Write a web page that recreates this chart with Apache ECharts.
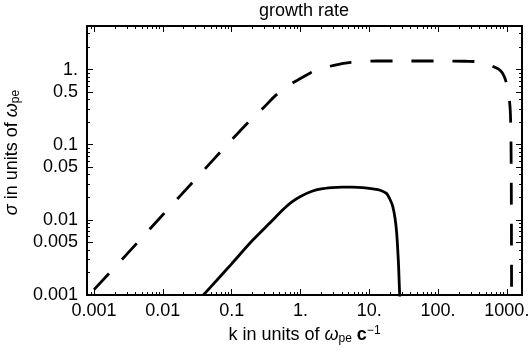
<!DOCTYPE html>
<html>
<head>
<meta charset="utf-8">
<title>growth rate</title>
<script src="https://cdn.jsdelivr.net/npm/echarts@6/dist/echarts.min.js"></script>
<style>
  html, body { margin: 0; padding: 0; background: #fff; }
  #chart { width: 531px; height: 351px; }
</style>
</head>
<body>
<div id="chart"></div>
<script>
// 数据: 点 (k in units of ω_pe c^-1, σ in units of ω_pe)
// 虚线
const kDashed = [0.001, 0.003, 0.01, 0.03, 0.1, 0.2, 0.3, 0.41, 0.55, 0.76, 1.0, 1.39, 2.0, 3.07, 4.2, 5.4, 8.0, 13,
  30, 100, 250, 451, 618, 750, 862, 950, 1000, 1055, 1100, 1128, 1145, 1155, 1162, 1167, 1172];
const sigmaDashed = [0.00118, 0.0035, 0.0117, 0.035, 0.116, 0.226, 0.32, 0.43, 0.54, 0.66, 0.76, 0.90, 1.03, 1.14, 1.21, 1.25, 1.28, 1.30,
  1.30, 1.30, 1.29, 1.25, 1.11, 1.02, 0.90, 0.74, 0.63, 0.51, 0.36, 0.25, 0.135, 0.06, 0.02, 0.005, 0.0008];
// 实线
const kSolid = [0.0388, 0.06, 0.1, 0.2, 0.377, 0.55, 0.743, 1.0, 1.47, 2.0, 2.9, 4.0, 5.7, 8.0, 11.3, 14.4,
  17.8, 20, 22, 23.7, 25, 26.5, 27.3, 27.8];
const sigmaSolid = [0.001, 0.00155, 0.0026, 0.0053, 0.0095, 0.0135, 0.0172, 0.0205, 0.0240, 0.0258, 0.0268, 0.0272, 0.0272, 0.0268, 0.0258, 0.0248,
  0.0225, 0.0188, 0.0150, 0.0105, 0.0068, 0.0028, 0.0014, 0.0009];

// 刻度
const xMajorTicks = [0.001, 0.01, 0.1, 1, 10, 100, 1000];
const xMajorLabels = ['0.001', '0.01', '0.1', '1.', '10.', '100.', '1000.'];
const yMajorTicks = [0.001, 0.005, 0.01, 0.05, 0.1, 0.5, 1];
const yMajorLabels = ['0.001', '0.005', '0.01', '0.05', '0.1', '0.5', '1.'];
const decades = [0.0001, 0.001, 0.01, 0.1, 1, 10, 100, 1000];
const xMinorSteps = [2, 3, 4, 5, 6, 7, 8, 9];
const yMinorSteps = [2, 3, 4, 6, 7, 8, 9];

// 坐标范围
const X_MIN = 0.00079, X_MAX = 1660;
const Y_MIN = 0.001, Y_MAX = 3.8;

const FONT = '"Liberation Sans", Arial, sans-serif';

// 小刻度位置 (每个十进位里的 2..9)
function minorTicks(steps, min, max) {
  const ret = [];
  for (const d of decades) {
    for (const s of steps) {
      const v = d * s;
      if (v > min && v < max) ret.push(v);
    }
  }
  return ret;
}

// 刻度值 -> 标签文字
function labelFor(values, labels) {
  return function (v) {
    for (let i = 0; i < values.length; i++) {
      if (Math.abs(Math.log10(values[i]) - Math.log10(v)) < 1e-6) return labels[i];
    }
    return '';
  };
}

// 一根对数轴 (只画线和刻度)
function makeAxis(min, max, position, tickValues, tickLen, showLine) {
  return {
    type: 'log',
    logBase: 10,
    position: position,
    min: min,
    max: max,
    silent: true,
    axisLine: { show: showLine, lineStyle: { color: '#000', width: 2 } },
    axisTick: {
      show: true, inside: true, length: tickLen, customValues: tickValues,
      lineStyle: { color: '#000', width: 1 }
    },
    axisLabel: { show: false },
    splitLine: { show: false },
    minorTick: { show: false },
    minorSplitLine: { show: false }
  };
}

const xMinor = minorTicks(xMinorSteps, X_MIN, X_MAX);
const yMinor = minorTicks(yMinorSteps, Y_MIN, Y_MAX);

// 主 x 轴 (下方, 带标签)
const xMain = makeAxis(X_MIN, X_MAX, 'bottom', xMajorTicks, 6, true);
xMain.axisLabel = {
  show: true, customValues: xMajorTicks, formatter: labelFor(xMajorTicks, xMajorLabels),
  margin: 7, color: '#000', fontFamily: FONT, fontSize: 18
};
xMain.name = '{t|k in units of }{w|ω}{sub|pe}{t| }{b|c}{sup|−1}';
xMain.nameLocation = 'middle';
xMain.nameGap = 25;
xMain.nameTextStyle = {
  color: '#000', fontFamily: FONT, fontSize: 18,
  rich: {
    t: { fontFamily: FONT, fontSize: 18, lineHeight: 20, color: '#000' },
    w: { fontFamily: FONT, fontSize: 18, lineHeight: 20, fontStyle: 'italic', color: '#000' },
    b: { fontFamily: FONT, fontSize: 18, lineHeight: 20, fontWeight: 'bold', color: '#000' },
    sub: { fontFamily: FONT, fontSize: 12, lineHeight: 10, verticalAlign: 'bottom', color: '#000' },
    sup: { fontFamily: FONT, fontSize: 12, lineHeight: 10, verticalAlign: 'top', color: '#000' }
  }
};

// 主 y 轴 (左边, 带标签)
const yMain = makeAxis(Y_MIN, Y_MAX, 'left', yMajorTicks, 6, true);
yMain.axisLabel = {
  show: true, customValues: yMajorTicks, formatter: labelFor(yMajorTicks, yMajorLabels),
  margin: 9, color: '#000', fontFamily: FONT, fontSize: 18
};
yMain.name = '{s|σ}{t| in units of }{w|ω}{sub|pe}';
yMain.nameLocation = 'middle';
yMain.nameGap = 62;
yMain.nameTextStyle = {
  color: '#000', fontFamily: FONT, fontSize: 18,
  padding: [0, 0, 0, 16],   // 名字整体往上挪一点
  rich: {
    s: { fontFamily: FONT, fontSize: 18, lineHeight: 20, fontStyle: 'italic', color: '#000' },
    t: { fontFamily: FONT, fontSize: 18, lineHeight: 20, color: '#000' },
    w: { fontFamily: FONT, fontSize: 18, lineHeight: 20, fontStyle: 'italic', color: '#000' },
    sub: { fontFamily: FONT, fontSize: 12, lineHeight: 10, verticalAlign: 'bottom', color: '#000' }
  }
};

const xAxes = [
  xMain,
  makeAxis(X_MIN, X_MAX, 'bottom', xMinor, 3, false),
  makeAxis(X_MIN, X_MAX, 'top', xMajorTicks, 6, true),
  makeAxis(X_MIN, X_MAX, 'top', xMinor, 3, false)
];
const yAxes = [
  yMain,
  makeAxis(Y_MIN, Y_MAX, 'left', yMinor, 3, false),
  makeAxis(Y_MIN, Y_MAX, 'right', yMajorTicks, 6, true),
  makeAxis(Y_MIN, Y_MAX, 'right', yMinor, 3, false)
];

function pairs(xs, ys) {
  return xs.map((x, i) => [x, ys[i]]);
}

const chart = echarts.init(document.getElementById('chart'), null, { renderer: 'canvas' });

const option = {
  animation: false,
  backgroundColor: '#fff',
  title: {
    text: 'growth rate',
    left: 304,
    top: 2,
    padding: 0,
    textAlign: 'center',
    textStyle: { color: '#000', fontFamily: FONT, fontSize: 18, fontWeight: 'normal' }
  },
  grid: {
    left: 87, right: 9, top: 26, bottom: 56,
    containLabel: false,
    outerBoundsMode: 'none'
  },
  xAxis: xAxes,
  yAxis: yAxes,
  series: [
    {
      type: 'line',
      xAxisIndex: 0,
      yAxisIndex: 0,
      data: pairs(kDashed, sigmaDashed),
      showSymbol: false,
      symbol: 'none',
      smooth: 0.3,
      clip: true,
      lineStyle: { color: '#000', width: 2.8, type: [22, 19], cap: 'butt' }
    },
    {
      type: 'line',
      xAxisIndex: 0,
      yAxisIndex: 0,
      data: pairs(kSolid, sigmaSolid),
      showSymbol: false,
      symbol: 'none',
      smooth: 0.3,
      clip: true,
      lineStyle: { color: '#000', width: 2.8, type: 'solid' }
    }
  ]
};

chart.setOption(option);
</script>
</body>
</html>
